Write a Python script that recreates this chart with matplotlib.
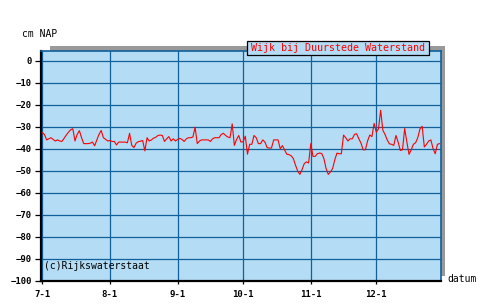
import numpy as np
import matplotlib
matplotlib.use("Agg")
import matplotlib.pyplot as plt
from matplotlib.patches import Rectangle

# daily water level (cm NAP) from 1 July
level = [
    -32.7, -33.5, -36.0, -35.5, -35.0, -35.8, -36.5, -36.0, -36.5, -36.7,
    -35.3, -33.8, -32.5, -31.4, -30.9, -36.5, -33.5, -31.8, -35.0, -37.7,
    -37.7, -37.7, -37.5, -37.0, -38.7, -36.0, -33.5, -31.7, -35.0, -35.7,
    -36.5, -36.3, -36.7, -36.7, -38.3, -37.0, -37.0, -37.0, -37.0, -37.3,
    -33.0, -38.5, -39.5, -37.5, -36.8, -36.6, -36.3, -41.0, -35.0, -36.5,
    -36.0, -35.2, -34.8, -34.0, -33.8, -34.0, -36.7, -35.5, -34.5, -36.5,
    -35.5, -36.5, -35.8, -35.3, -35.8, -36.7, -35.5, -35.0, -35.0, -34.7,
    -30.2, -37.7, -36.5, -36.0, -36.0, -36.0, -36.0, -36.7, -35.5, -35.0,
    -35.0, -35.0, -33.5, -33.0, -34.0, -34.7, -35.0, -28.7, -38.5, -35.8,
    -34.0, -37.0, -36.8, -34.3, -42.5, -38.0, -38.0, -34.0, -35.0, -37.7,
    -37.7, -36.0, -37.0, -39.5, -39.7, -39.7, -36.0, -36.0, -36.0, -40.0,
    -38.6, -40.5, -42.5, -42.7, -43.2, -44.5, -47.5, -50.2, -51.7, -49.5,
    -46.8, -46.0, -46.5, -37.7, -43.5, -43.5, -42.3, -42.0, -42.2, -44.5,
    -49.0, -51.7, -50.6, -49.0, -45.0, -42.0, -42.3, -42.3, -33.8, -35.0,
    -36.5, -35.5, -35.5, -33.5, -33.2, -35.5, -37.5, -40.5, -40.5, -36.5,
    -33.8, -34.5, -28.5, -32.5, -31.0, -22.5, -31.6, -33.5, -36.0, -37.8,
    -38.0, -38.5, -34.0, -37.0, -40.8, -40.5, -30.8, -37.0, -42.6, -40.5,
    -38.0, -37.3, -35.0, -31.0, -29.8, -39.2, -38.0, -36.5, -36.0, -40.0,
    -42.3, -38.0, -37.7,
]
month_days = [0, 31, 62, 92, 123, 153]
month_labels = ["7-1", "8-1", "9-1", "10-1", "11-1", "12-1"]
y_ticks = list(range(0, -101, -10))

W, H = 490, 305
bg = "#b4dcf4"
blue = "#10609c"
mono = "DejaVu Sans Mono"

fig = plt.figure(figsize=(W / 100, H / 100), dpi=100)

def px(x0, y0, x1, y1):
    # pixel box (top-left origin) -> figure fraction
    return [x0 / W, 1 - y1 / H, (x1 - x0) / W, (y1 - y0) / H]

# grey drop shadow behind the plot area
sx, sy, sw, sh = px(50, 45.7, 444.7, 276)
fig.add_artist(Rectangle((sx, sy), sw, sh, transform=fig.transFigure,
                         facecolor="#999999", edgecolor="none", zorder=-1))

ax = fig.add_axes(px(40.5, 50.7, 440.7, 280.5))
ax.set_facecolor(bg)

days = np.arange(len(level))
ax.plot(days, level, color="#ff0000", lw=0.8, zorder=3)

ax.set_xlim(-0.8, 182.5)
ax.set_ylim(-100, 4.6)
ax.set_xticks(month_days)
ax.set_xticklabels(month_labels)
ax.set_yticks(y_ticks)
ax.grid(True, color=blue, lw=0.9)
ax.set_axisbelow(True)

for s in ["left", "bottom"]:
    ax.spines[s].set_color("black")
    ax.spines[s].set_linewidth(1.6)
for s in ["top", "right"]:
    ax.spines[s].set_color(blue)
    ax.spines[s].set_linewidth(1.2)

ax.tick_params(axis="y", length=4, width=0.9, pad=2, labelsize=6.5,
               direction="out")
ax.tick_params(axis="x", length=2.5, width=0.9, pad=4, labelsize=6.5,
               direction="out")
for lab in ax.get_xticklabels() + ax.get_yticklabels():
    lab.set_fontfamily(mono)
    lab.set_fontweight("bold")

ax.text(0.008, 0.04, "(c)Rijkswaterstaat", transform=ax.transAxes,
        fontsize=7, family=mono, color="black", va="bottom", ha="left")

fig.text(22 / W, 1 - 34 / H, "cm NAP", fontsize=7, family=mono,
         va="center", ha="left")
fig.text(447 / W, 1 - 279.5 / H, "datum", fontsize=7, family=mono,
         va="center", ha="left")

# title box
bx, by, bw, bh = px(247.3, 41.3, 429.3, 55.3)
fig.add_artist(Rectangle((bx, by), bw, bh, transform=fig.transFigure,
                         facecolor=bg, edgecolor="black", lw=0.9, zorder=5))
fig.text(bx + bw / 2, by + bh / 2, "Wijk bij Duurstede Waterstand",
         fontsize=7.2, family=mono, color="#ff0000", ha="center",
         va="center", zorder=6)

fig.savefig("out.png", dpi=100)
